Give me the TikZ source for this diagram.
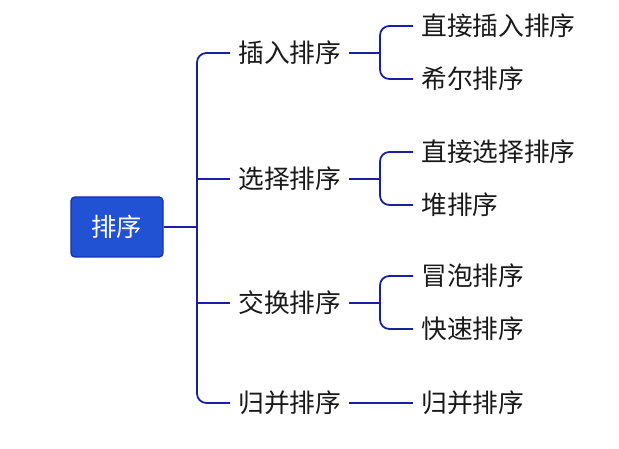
\documentclass[tikz,border=0pt]{standalone}
\usepackage{fontspec}
\usepackage{tikz}
\newfontfamily\cjk{Noto Sans CJK SC}
\definecolor{linkblue}{RGB}{24,32,160}
\definecolor{rootfill}{RGB}{33,82,211}
\definecolor{rootdraw}{RGB}{20,48,170}
\tikzset{
  rootbox/.style={draw=rootdraw,fill=rootfill,rounded corners=3pt,line width=1pt,
    minimum width=69pt,minimum height=45pt,text=white,font=\cjk\fontsize{19}{21}\selectfont},
  sortname/.style={anchor=west,inner xsep=6pt,inner ysep=2pt,text=black!90,
    font=\cjk\fontsize{19.3}{21}\selectfont},
  link/.style={draw=linkblue,line width=1.35pt},
}

\begin{document}
\begin{tikzpicture}[x=0.75pt,y=0.75pt,yscale=-1,xscale=1]
\useasboundingbox (0,0) rectangle (619,449);

% Root Node
\node [rootbox] (root) at (117,227) {排序};

% Text Node
\node [sortname] (ins) at (230,53) {插入排序};
\node [sortname] (sel) at (230,179) {选择排序};
\node [sortname] (swp) at (230,303) {交换排序};
\node [sortname] (mrg) at (230,403) {归并排序};

% Text Node
\node [sortname] (ins1) at (413,26) {直接插入排序};
\node [sortname] (ins2) at (413,79) {希尔排序};
\node [sortname] (sel1) at (413,152) {直接选择排序};
\node [sortname] (sel2) at (413,205) {堆排序};
\node [sortname] (swp1) at (413,276) {冒泡排序};
\node [sortname] (swp2) at (413,329) {快速排序};
\node [sortname] (mrg1) at (413,403) {归并排序};

%Straight Lines
\coordinate (trunk) at (197,227);
\draw [link] (root.east) -- (trunk);
\draw [link,rounded corners=7] (trunk) |- (ins.west);
\draw [link] (trunk) |- (sel.west);
\draw [link] (trunk) |- (swp.west);
\draw [link,rounded corners=7] (trunk) |- (mrg.west);

%Straight Lines
\coordinate (fork1) at (380,53);
\coordinate (fork2) at (380,179);
\coordinate (fork3) at (380,303);
\draw [link] (ins.east) -- (fork1);
\draw [link,rounded corners=7] (fork1) |- (ins1.west);
\draw [link,rounded corners=7] (fork1) |- (ins2.west);
\draw [link] (sel.east) -- (fork2);
\draw [link,rounded corners=7] (fork2) |- (sel1.west);
\draw [link,rounded corners=7] (fork2) |- (sel2.west);
\draw [link] (swp.east) -- (fork3);
\draw [link,rounded corners=7] (fork3) |- (swp1.west);
\draw [link,rounded corners=7] (fork3) |- (swp2.west);
\draw [link] (mrg.east) -- (mrg1.west);

\end{tikzpicture}
\end{document}
